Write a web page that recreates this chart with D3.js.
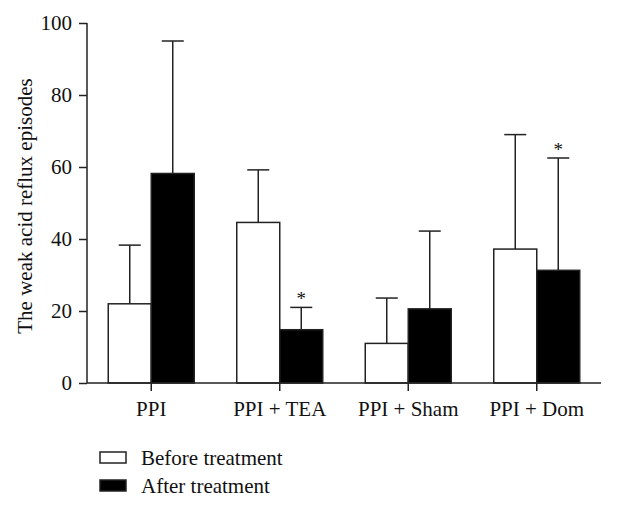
<!DOCTYPE html>
<html lang="en">
    <head>
        <meta charset="utf-8">
        <title>D3</title>
        <script type="text/javascript" src="https://cdnjs.cloudflare.com/ajax/libs/d3/7.8.5/d3.min.js"></script>
        <style type="text/css">
            body { margin: 0; background: #fff; }
            text { font-family: "Liberation Serif", "DejaVu Serif", serif; fill: #111; }
        </style>
    </head>
    <body>
        <script type="text/javascript">
            var w = 642;
            var h = 505;

            var categories = ["PPI", "PPI + TEA", "PPI + Sham", "PPI + Dom"];
            var beforeMean = [22, 44.6, 11, 37.2];
            var beforeTop = [38.3, 59.2, 23.6, 69];
            var afterMean = [58.2, 14.8, 20.6, 31.3];
            var afterTop = [95, 21, 42.2, 62.5];
            var afterStar = [false, true, false, true];
            var yTicks = [0, 20, 40, 60, 80, 100];
            var legendLabels = ["Before treatment", "After treatment"];

            var ink = "#222";
            var plotL = 87, plotR = 601, plotT = 23, plotB = 383;
            var fs = "21px";

            var svg = d3.select("body")
                        .append("svg")
                        .attr("width", w)
                        .attr("height", h);

            var x = d3.scaleBand()
                      .domain(categories)
                      .range([plotL, plotR]);
            var y = d3.scaleLinear()
                      .domain([0, 100])
                      .range([plotB, plotT]);

            var barW = 43;

            // rows: one per bar
            var rows = [];
            categories.forEach(function(c, i) {
                rows.push({cat: c, mean: beforeMean[i], top: beforeTop[i], side: -1, fill: "#fff", star: false});
                rows.push({cat: c, mean: afterMean[i], top: afterTop[i], side: 0, fill: "#000", star: afterStar[i]});
            });

            function barX(d) {
                return x(d.cat) + x.bandwidth() / 2 + d.side * barW;
            }

            // error bars (upward only)
            svg.selectAll("line.err")
               .data(rows)
               .enter()
               .append("line")
               .attr("class", "err")
               .attr("x1", function(d) { return barX(d) + barW / 2; })
               .attr("x2", function(d) { return barX(d) + barW / 2; })
               .attr("y1", function(d) { return y(d.mean); })
               .attr("y2", function(d) { return y(d.top); })
               .attr("stroke", ink)
               .attr("stroke-width", 1.5);

            svg.selectAll("line.cap")
               .data(rows)
               .enter()
               .append("line")
               .attr("class", "cap")
               .attr("x1", function(d) { return barX(d) + barW / 2 - 11; })
               .attr("x2", function(d) { return barX(d) + barW / 2 + 11; })
               .attr("y1", function(d) { return y(d.top); })
               .attr("y2", function(d) { return y(d.top); })
               .attr("stroke", ink)
               .attr("stroke-width", 1.5);

            svg.selectAll("rect.bar")
               .data(rows)
               .enter()
               .append("rect")
               .attr("class", "bar")
               .attr("x", function(d) { return barX(d); })
               .attr("y", function(d) { return y(d.mean); })
               .attr("width", barW)
               .attr("height", function(d) { return y(0) - y(d.mean); })
               .attr("fill", function(d) { return d.fill; })
               .attr("stroke", ink)
               .attr("stroke-width", 1.5);

            svg.selectAll("text.star")
               .data(rows.filter(function(d) { return d.star; }))
               .enter()
               .append("text")
               .attr("class", "star")
               .attr("x", function(d) { return barX(d) + barW / 2; })
               .attr("y", function(d) { return y(d.top) - 2; })
               .attr("text-anchor", "middle")
               .attr("font-size", "19px")
               .text("*");

            // y axis
            var yAxis = svg.append("g")
               .attr("transform", "translate(" + plotL + ",0)")
               .call(d3.axisLeft(y).tickValues(yTicks).tickSize(8).tickPadding(7));
            // x axis
            var xAxis = svg.append("g")
               .attr("transform", "translate(0," + plotB + ")")
               .call(d3.axisBottom(x).tickSize(8).tickPadding(10));

            [yAxis, xAxis].forEach(function(g) {
                g.select(".domain").attr("stroke", ink).attr("stroke-width", 1.5);
                g.selectAll(".tick line").attr("stroke", ink).attr("stroke-width", 1.5);
                g.selectAll(".tick text")
                 .attr("font-family", "Liberation Serif, DejaVu Serif, serif")
                 .attr("font-size", fs)
                 .attr("fill", "#111");
            });
            xAxis.select(".domain").attr("d", "M" + plotL + ",0H" + plotR);
            yAxis.select(".domain").attr("d", "M0," + plotB + "V" + plotT);

            svg.append("text")
               .attr("transform", "translate(32," + ((plotT + plotB) / 2 + 3) + ") rotate(-90)")
               .attr("text-anchor", "middle")
               .attr("font-size", fs)
               .text("The weak acid reflux episodes");

            // legend
            var legend = svg.selectAll("g.legend")
               .data(legendLabels)
               .enter()
               .append("g")
               .attr("class", "legend")
               .attr("transform", function(d, i) { return "translate(100," + (452 + i * 28) + ")"; });

            legend.append("rect")
               .attr("width", 26)
               .attr("height", 11)
               .attr("fill", function(d, i) { return i === 0 ? "#fff" : "#000"; })
               .attr("stroke", ink)
               .attr("stroke-width", 1.5);

            legend.append("text")
               .attr("x", 41)
               .attr("y", 13)
               .attr("font-size", fs)
               .text(function(d) { return d; });
        </script>
    </body>
</html>
